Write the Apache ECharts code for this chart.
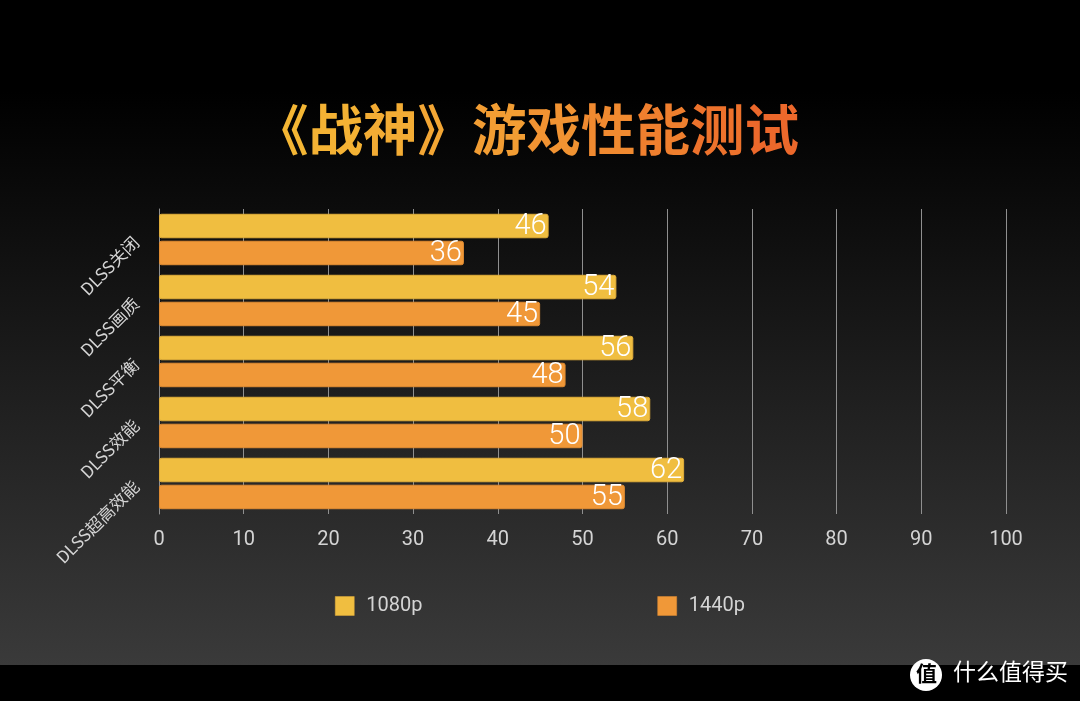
<!DOCTYPE html>
<html>
<head>
<meta charset="utf-8">
<style>html,body{margin:0;padding:0;background:#000}#main{width:1080px;height:701px}</style>
<script src="https://cdn.jsdelivr.net/npm/echarts@6/dist/echarts.min.js"></script>
</head>
<body>
<div id="main"></div>
<script>
var titleChars = ['《', '战', '神', '》', '游', '戏', '性', '能', '测', '试'];
var titleColors = ['#f4b634', '#f4b234', '#f3ac34', '#f3a634', '#f29d33', '#f19332', '#f08a30', '#ef7f2e', '#ed722c', '#ec682b'];
var categories = ['DLSS关闭', 'DLSS画质', 'DLSS平衡', 'DLSS效能', 'DLSS超高效能'];
var values1080 = [46, 54, 56, 58, 62];
var values1440 = [36, 45, 48, 50, 55];

var cnFont = '"Noto Sans CJK SC", "Noto Sans", sans-serif';
var numFont = 'Roboto, "Open Sans", sans-serif';

// one rich style per title character, canvas text can't take a gradient fill
var titleRich = {};
var titleStr = '';
for (var i = 0; i < titleChars.length; i++) {
    titleRich['c' + i] = { color: titleColors[i], fontSize: 54.5, fontWeight: 'bold', fontFamily: cnFont };
    titleStr += '{c' + i + '|' + titleChars[i] + '}';
}

function makeSeries(name, data, color, border) {
    return {
        name: name,
        type: 'bar',
        data: data,
        barWidth: 24.5,
        barGap: '10%',
        itemStyle: { color: color, borderColor: border, borderWidth: 1, borderRadius: 2 },
        label: {
            show: true,
            position: 'insideRight',
            distance: 2,
            offset: [0, 1],
            color: '#fff',
            fontSize: 29,
            fontWeight: 300,
            fontFamily: numFont
        }
    };
}

var myChart = echarts.init(document.getElementById('main'));

var option = {
    animation: false,
    backgroundColor: {
        type: 'linear', x: 0, y: 0, x2: 0, y2: 1,
        colorStops: [
            { offset: 0, color: '#000000' },
            { offset: 0.13, color: '#000000' },
            { offset: 0.9486, color: '#3a3a3a' },
            { offset: 0.9486, color: '#000000' },
            { offset: 1, color: '#000000' }
        ]
    },
    title: {
        left: 254,
        top: 102,
        padding: 0,
        text: titleStr,
        textStyle: { rich: titleRich }
    },
    grid: { left: 159, right: 74, top: 209, bottom: 187 },
    legend: {
        left: 335,
        top: 596,
        padding: 0,
        icon: 'rect',
        itemWidth: 19,
        itemHeight: 19,
        itemGap: 235,
        itemStyle: { borderWidth: 0.5 },
        data: ['1080p', '1440p'],
        textStyle: { color: '#d4d4d4', fontSize: 20, padding: [3, 0, 0, 7], fontFamily: numFont }
    },
    xAxis: {
        type: 'value',
        min: 0,
        max: 100,
        interval: 10,
        axisLine: { show: false },
        axisTick: { show: false },
        splitLine: { lineStyle: { color: '#8f8f8f', width: 1 } },
        axisLabel: {
            margin: 15.5,
            color: '#d4d4d4',
            fontSize: 20,
            fontFamily: numFont
        }
    },
    yAxis: {
        type: 'category',
        inverse: true,
        data: categories,
        axisLine: { show: true, lineStyle: { color: '#8f8f8f', width: 1 } },
        axisTick: { show: false },
        axisLabel: {
            rotate: 45,
            margin: 23,
            color: '#d4d4d4',
            fontSize: 17,
            fontFamily: cnFont
        }
    },
    series: [
        makeSeries('1080p', values1080, '#f0be40', '#e0ad3a'),
        makeSeries('1440p', values1440, '#f09838', '#e08c32')
    ],
    graphic: [
        {
            type: 'circle',
            shape: { cx: 926, cy: 675, r: 16 },
            style: { fill: '#fff' }
        },
        {
            type: 'text',
            left: 916,
            top: 663,
            style: { text: '值', fontSize: 21, fontWeight: 'bold', fontFamily: cnFont, fill: '#000' }
        },
        {
            type: 'text',
            left: 953,
            top: 660,
            style: { text: '什么值得买', fontSize: 23, fontFamily: cnFont, fill: '#fff' }
        }
    ]
};

myChart.setOption(option);
</script>
</body>
</html>
